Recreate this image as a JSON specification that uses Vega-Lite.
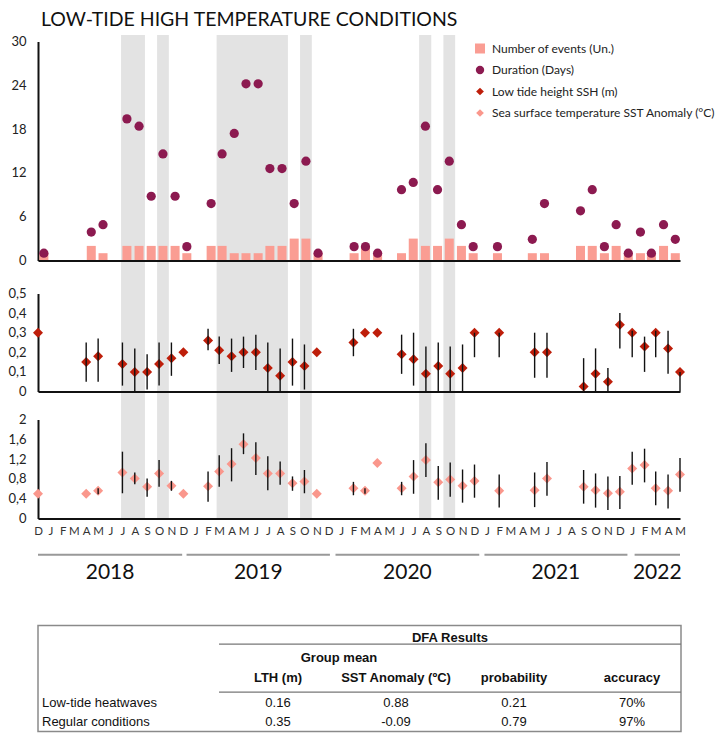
{
  "$schema": "https://vega.github.io/schema/vega-lite/v6.json",
  "background": "white",
  "padding": {"left": 7, "top": 9.5, "right": 0, "bottom": 0},
  "bounds": "flush",
  "spacing": 33,
  "title": {"text": "LOW-TIDE HIGH TEMPERATURE CONDITIONS", "anchor": "start", "frame": "group", "font": "Lato", "fontSize": 19.5, "fontWeight": "normal", "color": "#111111", "dx": 3, "offset": 4},
  "config": {
    "view": {"stroke": null},
    "font": "Lato",
    "axis": {"grid": false, "ticks": false, "domainColor": "#111111", "domainWidth": 2, "labelFont": "Lato", "labelFontSize": 13, "labelColor": "#222222", "labelPadding": 12, "labelOverlap": false}
  },
  "datasets": {
    "obs": [
      {"month": "2017/12/01", "events": 1, "duration": 1, "ssh": 0.30, "sst": 0.50},
      {"month": "2018/04/01", "events": 2, "duration": 3.9, "ssh": 0.15, "ssh_lo": 0.05, "ssh_hi": 0.25, "sst": 0.50},
      {"month": "2018/05/01", "events": 1, "duration": 4.9, "ssh": 0.18, "ssh_lo": 0.05, "ssh_hi": 0.27, "sst": 0.56, "sst_lo": 0.49, "sst_hi": 0.61},
      {"month": "2018/07/01", "events": 2, "duration": 19.4, "ssh": 0.14, "ssh_lo": 0.03, "ssh_hi": 0.25, "sst": 0.93, "sst_lo": 0.51, "sst_hi": 1.35},
      {"month": "2018/08/01", "events": 2, "duration": 18.4, "ssh": 0.10, "ssh_lo": 0.0, "ssh_hi": 0.22, "sst": 0.81, "sst_lo": 0.69, "sst_hi": 0.93},
      {"month": "2018/09/01", "events": 2, "duration": 8.8, "ssh": 0.10, "ssh_lo": 0.01, "ssh_hi": 0.19, "sst": 0.64, "sst_lo": 0.44, "sst_hi": 0.81},
      {"month": "2018/10/01", "events": 2, "duration": 14.6, "ssh": 0.14, "ssh_lo": 0.03, "ssh_hi": 0.25, "sst": 0.91, "sst_lo": 0.64, "sst_hi": 1.18},
      {"month": "2018/11/01", "events": 2, "duration": 8.8, "ssh": 0.17, "ssh_lo": 0.08, "ssh_hi": 0.25, "sst": 0.66, "sst_lo": 0.56, "sst_hi": 0.76},
      {"month": "2018/12/01", "events": 1, "duration": 1.9, "ssh": 0.20, "sst": 0.50},
      {"month": "2019/02/01", "events": 2, "duration": 7.8, "ssh": 0.26, "ssh_lo": 0.21, "ssh_hi": 0.32, "sst": 0.65, "sst_lo": 0.34, "sst_hi": 0.95},
      {"month": "2019/03/01", "events": 2, "duration": 14.6, "ssh": 0.21, "ssh_lo": 0.14, "ssh_hi": 0.28, "sst": 0.95, "sst_lo": 0.64, "sst_hi": 1.28},
      {"month": "2019/04/01", "events": 1, "duration": 17.4, "ssh": 0.18, "ssh_lo": 0.10, "ssh_hi": 0.27, "sst": 1.10, "sst_lo": 0.75, "sst_hi": 1.42},
      {"month": "2019/05/01", "events": 1, "duration": 24.2, "ssh": 0.20, "ssh_lo": 0.12, "ssh_hi": 0.28, "sst": 1.50, "sst_lo": 1.30, "sst_hi": 1.72},
      {"month": "2019/06/01", "events": 1, "duration": 24.2, "ssh": 0.20, "ssh_lo": 0.11, "ssh_hi": 0.29, "sst": 1.22, "sst_lo": 0.88, "sst_hi": 1.54},
      {"month": "2019/07/01", "events": 2, "duration": 12.6, "ssh": 0.12, "ssh_lo": 0.0, "ssh_hi": 0.25, "sst": 0.91, "sst_lo": 0.57, "sst_hi": 1.26},
      {"month": "2019/08/01", "events": 2, "duration": 12.6, "ssh": 0.08, "ssh_lo": 0.0, "ssh_hi": 0.22, "sst": 0.91, "sst_lo": 0.68, "sst_hi": 1.15},
      {"month": "2019/09/01", "events": 3, "duration": 7.8, "ssh": 0.15, "ssh_lo": 0.03, "ssh_hi": 0.27, "sst": 0.71, "sst_lo": 0.56, "sst_hi": 0.85},
      {"month": "2019/10/01", "events": 3, "duration": 13.6, "ssh": 0.13, "ssh_lo": 0.01, "ssh_hi": 0.24, "sst": 0.75, "sst_lo": 0.51, "sst_hi": 0.98},
      {"month": "2019/11/01", "events": 1, "duration": 1, "ssh": 0.20, "sst": 0.50},
      {"month": "2020/02/01", "events": 1, "duration": 1.9, "ssh": 0.25, "ssh_lo": 0.18, "ssh_hi": 0.32, "sst": 0.61, "sst_lo": 0.47, "sst_hi": 0.74},
      {"month": "2020/03/01", "events": 2, "duration": 1.9, "ssh": 0.30, "sst": 0.56, "sst_lo": 0.50, "sst_hi": 0.61},
      {"month": "2020/04/01", "events": 1, "duration": 1, "ssh": 0.30, "sst": 1.12},
      {"month": "2020/06/01", "events": 1, "duration": 9.7, "ssh": 0.19, "ssh_lo": 0.09, "ssh_hi": 0.29, "sst": 0.61, "sst_lo": 0.47, "sst_hi": 0.74},
      {"month": "2020/07/01", "events": 3, "duration": 10.7, "ssh": 0.165, "ssh_lo": 0.03, "ssh_hi": 0.30, "sst": 0.85, "sst_lo": 0.50, "sst_hi": 1.18},
      {"month": "2020/08/01", "events": 2, "duration": 18.4, "ssh": 0.09, "ssh_lo": 0.0, "ssh_hi": 0.23, "sst": 1.18, "sst_lo": 0.84, "sst_hi": 1.52},
      {"month": "2020/09/01", "events": 2, "duration": 9.7, "ssh": 0.13, "ssh_lo": 0.0, "ssh_hi": 0.25, "sst": 0.73, "sst_lo": 0.38, "sst_hi": 1.06},
      {"month": "2020/10/01", "events": 3, "duration": 13.6, "ssh": 0.09, "ssh_lo": 0.0, "ssh_hi": 0.23, "sst": 0.79, "sst_lo": 0.44, "sst_hi": 1.13},
      {"month": "2020/11/01", "events": 2, "duration": 4.9, "ssh": 0.12, "ssh_lo": 0.0, "ssh_hi": 0.24, "sst": 0.66, "sst_lo": 0.32, "sst_hi": 0.99},
      {"month": "2020/12/01", "events": 1, "duration": 1.9, "ssh": 0.30, "ssh_lo": 0.175, "ssh_hi": 0.30, "sst": 0.76, "sst_lo": 0.42, "sst_hi": 1.09},
      {"month": "2021/02/01", "events": 1, "duration": 1.9, "ssh": 0.30, "ssh_lo": 0.175, "ssh_hi": 0.30, "sst": 0.56, "sst_lo": 0.22, "sst_hi": 0.89},
      {"month": "2021/05/01", "events": 1, "duration": 2.9, "ssh": 0.20, "ssh_lo": 0.07, "ssh_hi": 0.30, "sst": 0.57, "sst_lo": 0.23, "sst_hi": 0.93},
      {"month": "2021/06/01", "events": 1, "duration": 7.8, "ssh": 0.20, "ssh_lo": 0.07, "ssh_hi": 0.30, "sst": 0.81, "sst_lo": 0.46, "sst_hi": 1.14},
      {"month": "2021/09/01", "events": 2, "duration": 6.8, "ssh": 0.025, "ssh_lo": 0.0, "ssh_hi": 0.17, "sst": 0.64, "sst_lo": 0.30, "sst_hi": 0.98},
      {"month": "2021/10/01", "events": 2, "duration": 9.7, "ssh": 0.09, "ssh_lo": 0.0, "ssh_hi": 0.22, "sst": 0.57, "sst_lo": 0.22, "sst_hi": 0.91},
      {"month": "2021/11/01", "events": 1, "duration": 1.9, "ssh": 0.05, "ssh_lo": 0.0, "ssh_hi": 0.12, "sst": 0.51, "sst_lo": 0.17, "sst_hi": 0.85},
      {"month": "2021/12/01", "events": 2, "duration": 4.9, "ssh": 0.34, "ssh_lo": 0.22, "ssh_hi": 0.40, "sst": 0.54, "sst_lo": 0.19, "sst_hi": 0.86},
      {"month": "2022/01/01", "events": 1, "duration": 1, "ssh": 0.30, "ssh_lo": 0.175, "ssh_hi": 0.31, "sst": 1.01, "sst_lo": 0.68, "sst_hi": 1.35},
      {"month": "2022/02/01", "events": 1, "duration": 3.9, "ssh": 0.23, "ssh_lo": 0.10, "ssh_hi": 0.28, "sst": 1.08, "sst_lo": 0.73, "sst_hi": 1.41},
      {"month": "2022/03/01", "events": 1, "duration": 1, "ssh": 0.30, "ssh_lo": 0.175, "ssh_hi": 0.31, "sst": 0.61, "sst_lo": 0.27, "sst_hi": 0.95},
      {"month": "2022/04/01", "events": 2, "duration": 4.9, "ssh": 0.22, "ssh_lo": 0.09, "ssh_hi": 0.31, "sst": 0.56, "sst_lo": 0.20, "sst_hi": 0.89},
      {"month": "2022/05/01", "events": 1, "duration": 2.9, "ssh": 0.10, "ssh_lo": 0.0, "ssh_hi": 0.10, "sst": 0.89, "sst_lo": 0.54, "sst_hi": 1.22}
    ],
    "shades": [
      {"start": "2018/06/16", "end": "2018/08/16"},
      {"start": "2018/09/16", "end": "2018/10/16"},
      {"start": "2019/02/15", "end": "2019/08/16"},
      {"start": "2019/09/16", "end": "2019/10/16"},
      {"start": "2020/07/16", "end": "2020/08/16"},
      {"start": "2020/09/16", "end": "2020/10/16"}
    ],
    "years": [
      {"year": "2018", "start": "2017/12/01", "end": "2018/11/28"},
      {"year": "2019", "start": "2018/12/09", "end": "2019/12/04"},
      {"year": "2020", "start": "2019/12/18", "end": "2020/12/13"},
      {"year": "2021", "start": "2020/12/26", "end": "2021/12/20"},
      {"year": "2022", "start": "2022/01/07", "end": "2022/05/01"}
    ],
    "dfa": [
      {"condition": "Low-tide heatwaves", "LTH": "0.16", "SST": "0.88", "prob": "0.21", "acc": "70%"},
      {"condition": "Regular conditions", "LTH": "0.35", "SST": "-0.09", "prob": "0.79", "acc": "97%"}
    ],
    "columns": [
      {"col": "LTH", "header": "LTH (m)"},
      {"col": "SST", "header": "SST Anomaly (ºC)"},
      {"col": "prob", "header": "probability"},
      {"col": "acc", "header": "accuracy"}
    ]
  },
  "vconcat": [
    {
      "width": 642,
      "height": 219,
      "layer": [
        {
          "data": {"name": "shades"},
          "mark": {"type": "rect", "color": "#e3e3e3"},
          "encoding": {
            "x": {"field": "start", "type": "temporal", "scale": {"domain": [{"year": 2017, "month": 11, "date": 16}, {"year": 2022, "month": 5, "date": 13}], "nice": false, "padding": 0}, "axis": {"labels": false, "title": null, "zindex": 1}},
            "x2": {"field": "end"},
            "y": {"datum": 30.9, "type": "quantitative", "scale": {"domain": [0, 30], "nice": false}, "axis": {"values": [0, 6, 12, 18, 24, 30], "tickCount": 12, "title": null, "labelOverlap": false}},
            "y2": {"datum": -35.3}
          }
        },
        {
          "data": {"name": "obs"},
          "transform": [{"fold": ["events", "duration"], "as": ["series", "value"]}, {"filter": "datum.series == 'events'"}],
          "mark": {"type": "bar", "size": 9},
          "encoding": {
            "x": {"field": "month", "type": "temporal"},
            "y": {"field": "value", "type": "quantitative"},
            "color": {
              "field": "series", "type": "nominal",
              "scale": {"domain": ["events", "duration", "ssh", "sst"], "range": ["#FA9D93", "#8C1A50", "#BE1E0A", "#FA978C"]},
              "legend": {
                "orient": "none", "legendX": 436, "legendY": 1, "title": null, "direction": "vertical",
                "symbolSize": 100, "symbolStrokeWidth": 0, "labelFont": "Lato", "labelFontSize": 12, "labelColor": "#222222",
                "labelOffset": 6, "rowPadding": 9.5, "padding": 0, "labelLimit": 400,
                "labelExpr": "datum.value == 'events' ? 'Number of events (Un.)' : datum.value == 'duration' ? 'Duration (Days)' : datum.value == 'ssh' ? 'Low tide height SSH (m)' : 'Sea surface temperature SST Anomaly (°C)'",
                "encode": {"symbols": {"update": {
                  "shape": {"signal": "datum.value === 'events' ? 'square' : datum.value === 'duration' ? 'circle' : 'diamond'"},
                  "size": {"signal": "datum.value === 'events' ? 100 : datum.value === 'duration' ? 70 : 60"}
                }}}
              }
            }
          }
        },
        {
          "data": {"name": "obs"},
          "transform": [{"fold": ["events", "duration"], "as": ["series", "value"]}, {"filter": "datum.series == 'duration'"}],
          "mark": {"type": "circle", "size": 85, "opacity": 1},
          "encoding": {
            "x": {"field": "month", "type": "temporal"},
            "y": {"field": "value", "type": "quantitative"},
            "color": {"field": "series", "type": "nominal"}
          }
        }
      ]
    },
    {
      "spacing": 28,
      "bounds": "flush",
      "vconcat": [
        {
          "width": 642,
          "height": 98,
          "data": {"name": "obs"},
          "layer": [
            {
              "mark": {"type": "point", "shape": "diamond", "filled": true, "size": 100, "opacity": 1, "color": "#BE1E0A"},
              "encoding": {
                "x": {"field": "month", "type": "temporal", "scale": {"domain": [{"year": 2017, "month": 12, "date": 1}, {"year": 2022, "month": 5, "date": 1}], "nice": false, "padding": 0}, "axis": {"labels": false, "title": null}},
                "y": {"field": "ssh", "type": "quantitative", "scale": {"domain": [0, 0.5], "nice": false}, "axis": {"values": [0, 0.1, 0.2, 0.3, 0.4, 0.5], "tickCount": 12, "title": null, "labelOverlap": false, "labelBound": false, "labelFlush": false, "labelExpr": "datum.value == 0 ? '0' : replace(format(datum.value, '.1f'), '.', ',')"}}
              }
            },
            {
              "transform": [{"filter": "isValid(datum.ssh_lo)"}],
              "mark": {"type": "rule", "color": "#111111", "strokeWidth": 1.4},
              "encoding": {
                "x": {"field": "month", "type": "temporal"},
                "y": {"field": "ssh_lo", "type": "quantitative"},
                "y2": {"field": "ssh_hi"}
              }
            }
          ]
        },
        {
          "spacing": 27,
          "bounds": "flush",
          "vconcat": [
            {
              "width": 642,
              "height": 99,
              "data": {"name": "obs"},
              "layer": [
                {
                  "mark": {"type": "point", "shape": "diamond", "filled": true, "size": 100, "opacity": 1, "color": "#FA978C"},
                  "encoding": {
                    "x": {"field": "month", "type": "temporal", "scale": {"domain": [{"year": 2017, "month": 12, "date": 1}, {"year": 2022, "month": 5, "date": 1}], "nice": false, "padding": 0},
                      "axis": {"title": null, "tickCount": {"interval": "month", "step": 1}, "labelExpr": "slice(timeFormat(datum.value, '%B'), 0, 1)", "labelFontSize": 11.5, "labelPadding": 7, "labelOverlap": false, "labelFlush": false, "labelBound": false, "labelColor": "#333333"}},
                    "y": {"field": "sst", "type": "quantitative", "scale": {"domain": [0, 2], "nice": false}, "axis": {"values": [0, 0.4, 0.8, 1.2, 1.6, 2], "tickCount": 12, "title": null, "labelOverlap": false, "labelBound": false, "labelFlush": false, "labelExpr": "datum.value == 0 ? '0' : datum.value == 2 ? '2' : replace(format(datum.value, '.1f'), '.', ',')"}}
                  }
                },
                {
                  "transform": [{"filter": "isValid(datum.sst_lo)"}],
                  "mark": {"type": "rule", "color": "#111111", "strokeWidth": 1.4},
                  "encoding": {
                    "x": {"field": "month", "type": "temporal"},
                    "y": {"field": "sst_lo", "type": "quantitative"},
                    "y2": {"field": "sst_hi"}
                  }
                }
              ]
            },
            {
              "spacing": 43,
              "bounds": "flush",
              "vconcat": [
                {
                  "width": 642,
                  "height": 37,
                  "data": {"name": "years"},
                  "layer": [
                    {
                      "mark": {"type": "rule", "color": "#999999", "strokeWidth": 2},
                      "encoding": {
                        "x": {"field": "start", "type": "temporal", "scale": {"domain": [{"year": 2017, "month": 12, "date": 1}, {"year": 2022, "month": 5, "date": 1}], "nice": false, "padding": 0}, "axis": null},
                        "x2": {"field": "end"},
                        "y": {"datum": "line", "type": "nominal", "scale": {"type": "point", "domain": ["line", "label"], "padding": 0.5}, "axis": null}
                      }
                    },
                    {
                      "transform": [{"calculate": "(time(datum.start) + time(datum.end)) / 2", "as": "mid"}],
                      "mark": {"type": "text", "font": "Lato", "fontSize": 21, "color": "#111111", "baseline": "middle"},
                      "encoding": {
                        "x": {"field": "mid", "type": "temporal"},
                        "y": {"datum": "label", "type": "nominal"},
                        "text": {"field": "year"}
                      }
                    }
                  ]
                },
                {
                  "width": 643,
                  "height": 106,
                  "view": {"stroke": "#8a8a8a", "strokeWidth": 1.5},
                  "layer": [
                    {
                      "data": {"name": "dfa"},
                      "mark": {"type": "text", "align": "left", "baseline": "middle", "font": "Liberation Sans", "fontSize": 13, "color": "#111111"},
                      "encoding": {
                        "x": {"datum": "label", "type": "nominal", "scale": {"type": "point", "domain": ["label", "gap", "LTH", "SST", "prob", "acc"], "padding": 0.2246, "align": 0.0755}, "axis": null},
                        "y": {"field": "condition", "type": "nominal", "scale": {"type": "point", "domain": ["DFA", "group", "header", "Low-tide heatwaves", "Regular conditions"], "padding": 0.789, "align": 0.687}, "axis": null},
                        "text": {"field": "condition"}
                      }
                    },
                    {
                      "data": {"name": "dfa"},
                      "transform": [{"fold": ["LTH", "SST", "prob", "acc"], "as": ["col", "val"]}],
                      "mark": {"type": "text", "align": "center", "baseline": "middle", "font": "Liberation Sans", "fontSize": 13, "color": "#111111"},
                      "encoding": {
                        "x": {"field": "col", "type": "nominal"},
                        "y": {"field": "condition", "type": "nominal"},
                        "text": {"field": "val"}
                      }
                    },
                    {
                      "data": {"name": "columns"},
                      "mark": {"type": "text", "align": "center", "baseline": "middle", "font": "Liberation Sans", "fontSize": 13, "fontWeight": "bold", "color": "#111111", "yOffset": -6.6},
                      "encoding": {
                        "x": {"field": "col", "type": "nominal"},
                        "y": {"datum": "header", "type": "nominal"},
                        "text": {"field": "header"}
                      }
                    },
                    {
                      "data": {"values": [{"label": "DFA Results"}]},
                      "mark": {"type": "text", "align": "center", "baseline": "middle", "font": "Liberation Sans", "fontSize": 13, "fontWeight": "bold", "color": "#111111", "xOffset": 54, "yOffset": -8},
                      "encoding": {
                        "x": {"datum": "SST", "type": "nominal"},
                        "y": {"datum": "DFA", "type": "nominal"},
                        "text": {"field": "label"}
                      }
                    },
                    {
                      "data": {"values": [{"label": "Group mean"}]},
                      "mark": {"type": "text", "align": "center", "baseline": "middle", "font": "Liberation Sans", "fontSize": 13, "fontWeight": "bold", "color": "#111111", "xOffset": 61, "yOffset": -7.6},
                      "encoding": {
                        "x": {"datum": "LTH", "type": "nominal"},
                        "y": {"datum": "group", "type": "nominal"},
                        "text": {"field": "label"}
                      }
                    },
                    {
                      "data": {"values": [{"line": "under DFA Results"}]},
                      "mark": {"type": "rule", "color": "#777777", "strokeWidth": 1.3, "xOffset": 59, "yOffset": -2},
                      "encoding": {
                        "x": {"datum": "gap", "type": "nominal"},
                        "x2": {"value": "width"},
                        "y": {"datum": "DFA", "type": "nominal"}
                      }
                    },
                    {
                      "data": {"values": [{"line": "under headers"}]},
                      "mark": {"type": "rule", "color": "#777777", "strokeWidth": 1.3, "xOffset": 59, "yOffset": 8},
                      "encoding": {
                        "x": {"datum": "gap", "type": "nominal"},
                        "x2": {"value": "width"},
                        "y": {"datum": "header", "type": "nominal"}
                      }
                    }
                  ]
                }
              ]
            }
          ]
        }
      ]
    }
  ]
}
